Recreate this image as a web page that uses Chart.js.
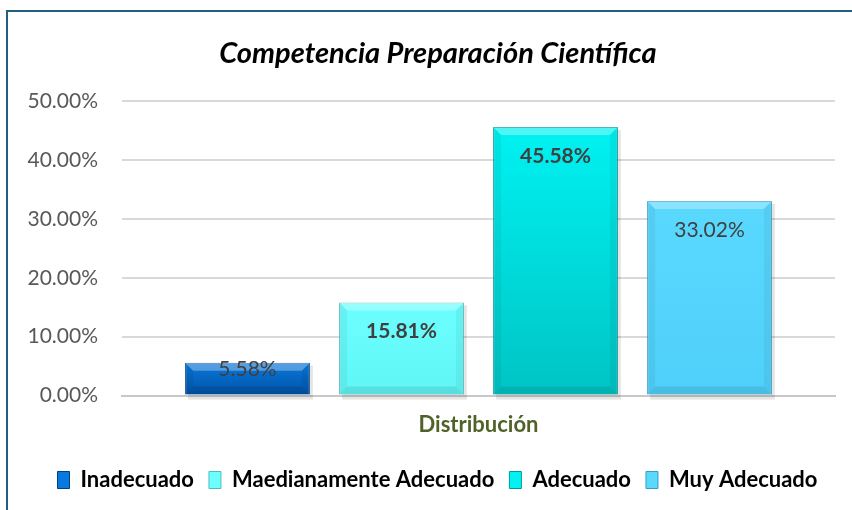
<!DOCTYPE html>
<html>
<head>
<meta charset="utf-8">
<script src="https://cdn.jsdelivr.net/npm/chart.js@4.4.1/dist/chart.umd.min.js"></script>
<style>
  html, body { margin: 0; padding: 0; background: #ffffff; overflow: hidden; }
  #frame {
    position: absolute; left: 6px; top: 10px; width: 900px; height: 600px;
    border-left: 2px solid #1f5f7f; border-top: 2px solid #1f5f7f;
  }
  #wrap { position: absolute; left: 0; top: 0; width: 852px; height: 510px; }
</style>
</head>
<body>
<div id="frame"></div>
<div id="wrap"><canvas id="graphicCompetencia" width="852" height="510"></canvas></div>
<script>
// datos del grafico
const titulo = "Competencia Preparación Científica";
const categorias = ["Distribución"];
const series = ["Inadecuado", "Maedianamente Adecuado", "Adecuado", "Muy Adecuado"];
const valores = [5.58, 15.81, 45.58, 33.02];
const ticksY = [0, 10, 20, 30, 40, 50];

// estilos
const coloresArriba = ["#0a78dc", "#6cffff", "#00f2f2", "#5ad9ff"];
const coloresAbajo = ["#0052a6", "#60f6f6", "#00c4c4", "#4fd0fa"];
const bordes = ["#003f80", "#4fbcbc", "#009a9a", "#3a9cc0"];
const pesoEtiquetas = ["normal", "bold", "bold", "normal"];
const fuente = "Lato, 'Open Sans', sans-serif";

function gradiente(ctx, i) {
  const chart = ctx.chart;
  const area = chart.chartArea;
  if (!area || !chart.scales.y) return coloresArriba[i];
  const top = chart.scales.y.getPixelForValue(valores[i]);
  if (!isFinite(top) || !isFinite(area.bottom)) return coloresArriba[i];
  const g = chart.ctx.createLinearGradient(0, top, 0, area.bottom);
  g.addColorStop(0, coloresArriba[i]);
  g.addColorStop(1, coloresAbajo[i]);
  return g;
}

// titulo (centrado sobre el marco del grafico, no sobre el canvas)
const tituloPlugin = {
  id: "tituloExcel",
  afterLayout(chart) {
    // la leyenda tambien va centrada sobre el marco
    if (chart.legend) { chart.legend.left += 10; chart.legend.right += 10; }
  },
  afterDraw(chart) {
    const c = chart.ctx;
    c.save();
    c.font = "italic bold 29px " + fuente;
    c.fillStyle = "#000000";
    c.textAlign = "center";
    c.textBaseline = "middle";
    c.fillText(titulo, 438, 54);
    c.restore();
  },
};

// bisel y sombra estilo Excel
const biselPlugin = {
  id: "bisel",
  beforeDatasetsDraw(chart) {
    const c = chart.ctx;
    chart.data.datasets.forEach((ds, i) => {
      const el = chart.getDatasetMeta(i).data[0];
      const x0 = el.x - el.width / 2;
      c.save();
      c.fillStyle = "rgba(0,0,0,0.10)";
      c.fillRect(x0 + 3, el.y + 3, el.width, el.base - el.y + 2);
      c.restore();
    });
  },
  afterDatasetsDraw(chart) {
    const c = chart.ctx;
    chart.data.datasets.forEach((ds, i) => {
      const el = chart.getDatasetMeta(i).data[0];
      const x0 = el.x - el.width / 2, x1 = el.x + el.width / 2;
      const y0 = el.y, y1 = el.base;
      const b = Math.min(8, (y1 - y0) / 3);
      c.save();
      // arriba claro
      c.fillStyle = "rgba(255,255,255,0.30)";
      c.beginPath();
      c.moveTo(x0, y0); c.lineTo(x1, y0); c.lineTo(x1 - b, y0 + b); c.lineTo(x0 + b, y0 + b);
      c.closePath(); c.fill();
      // lados
      c.fillStyle = "rgba(0,0,0,0.05)";
      c.beginPath();
      c.moveTo(x0, y0); c.lineTo(x0 + b, y0 + b); c.lineTo(x0 + b, y1 - b); c.lineTo(x0, y1);
      c.closePath(); c.fill();
      c.beginPath();
      c.moveTo(x1, y0); c.lineTo(x1 - b, y0 + b); c.lineTo(x1 - b, y1 - b); c.lineTo(x1, y1);
      c.closePath(); c.fill();
      // abajo
      c.fillStyle = "rgba(0,0,0,0.09)";
      c.beginPath();
      c.moveTo(x0, y1); c.lineTo(x1, y1); c.lineTo(x1 - b, y1 - b); c.lineTo(x0 + b, y1 - b);
      c.closePath(); c.fill();
      // etiqueta
      const h = y1 - y0;
      const off = Math.min(29, h / 2 - 9);
      c.font = pesoEtiquetas[i] + " 21px " + fuente;
      c.fillStyle = "#404040";
      c.textAlign = "center";
      c.textBaseline = "middle";
      c.fillText(valores[i].toFixed(2) + "%", el.x, y0 + off);
      c.restore();
    });
  },
};

const chrt = document.getElementById("graphicCompetencia").getContext("2d");
new Chart(chrt, {
  type: "bar",
  data: {
    labels: categorias,
    datasets: series.map((s, i) => ({
      label: s,
      data: [valores[i]],
      backgroundColor: (ctx) => gradiente(ctx, i),
      borderColor: bordes[i],
      borderWidth: 1,
      categoryPercentage: 0.864,
      barPercentage: 0.81,
    })),
  },
  options: {
    responsive: false,
    animation: false,
    layout: { padding: { left: 20, right: 17, top: 101, bottom: 9 } },
    scales: {
      x: {
        grid: { display: false },
        border: { display: true, color: "#c8c8c8", width: 2 },
        ticks: { color: "#4f6228", font: { family: fuente, size: 22, weight: "bold" }, padding: 8 },
        afterFit: (scale) => { scale.height += 8; },
      },
      y: {
        min: 0,
        max: 50,
        afterBuildTicks: (scale) => { scale.ticks = ticksY.map((v) => ({ value: v })); },
        afterFit: (scale) => { scale.width = 102; },
        border: { display: false },
        grid: { color: "#d9d9d9", lineWidth: 2, drawTicks: false },
        ticks: {
          color: "#595959",
          padding: 24,
          font: { family: fuente, size: 21 },
          callback: (v) => v.toFixed(2) + "%",
        },
      },
    },
    plugins: {
      title: { display: false },
      legend: {
        position: "bottom",
        labels: {
          color: "#595959",
          font: { family: fuente, size: 22, weight: "bold" },
          boxWidth: 12,
          boxHeight: 17,
          padding: 15,
          generateLabels: (chart) => series.map((s, i) => ({
            text: s,
            fillStyle: coloresArriba[i],
            strokeStyle: bordes[i],
            lineWidth: 1,
            datasetIndex: i,
          })),
        },
      },
      tooltip: { enabled: false },
    },
  },
  plugins: [biselPlugin, tituloPlugin],
});
</script>
</body>
</html>
